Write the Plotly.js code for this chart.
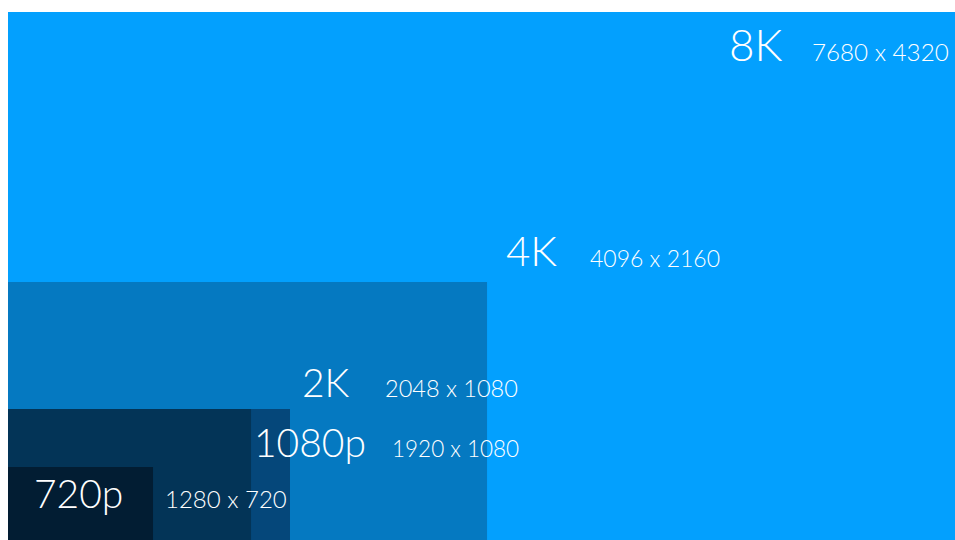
<!DOCTYPE html>
<html>
<head>
<meta charset="utf-8">
<script src="https://cdn.plot.ly/plotly-3.0.1.min.js"></script>
<style>
  html, body { margin: 0; padding: 0; background: #ffffff; }
  #chart { width: 955px; height: 540px; }
</style>
</head>
<body>
<div id="chart"></div>
<script>
// ---- data ----
const names = ['8K', '4K', '2K', '1080p', '720p'];
const resW = [7680, 4096, 2048, 1920, 1280];
const resH = [4320, 2160, 1080, 1080, 720];
// drawn box extents as they appear in the picture (same units as the axes)
const boxW = [7680, 3885, 2287, 1971, 1176];
const boxH = [4320, 2111, 1072, 1072, 597];

// ---- styles ----
const fills = ['#03A0FE', '#0579C1', '#05477A', '#033457', '#021D33'];
const bigSize = [44, 42, 39, 39, 39];
const subSize = [24.2, 23, 23.5, 22.5, 24];
// label anchor pixels: [bigX, subX, baselineY]
const labelPx = [
  [730, 812, 62],
  [507, 590, 268],
  [303, 385, 398],
  [255, 392, 458],
  [35, 165, 509]
];

const W = 955, H = 540, ML = 8, MT = 12;
const PW = W - ML, PH = H - MT;
const toPaperX = p => (p - ML) / PW;
const toPaperY = p => (H - p) / PH;

const shapes = names.map((n, i) => ({
  type: 'rect', xref: 'x', yref: 'y', layer: 'below',
  x0: 0, x1: boxW[i], y0: 0, y1: boxH[i],
  fillcolor: fills[i], line: { width: 0 }
}));

const FONT = 'Lato, "Open Sans", sans-serif';
const annotations = [];
names.forEach((n, i) => {
  const [bx, sx, by] = labelPx[i];
  annotations.push({
    xref: 'paper', yref: 'paper', xanchor: 'left', yanchor: 'bottom',
    x: toPaperX(bx - 3), y: toPaperY(by + 0.22 * bigSize[i]),
    text: n, showarrow: false, borderpad: 1,
    font: { family: FONT, size: bigSize[i], color: '#ffffff', weight: 300 }
  });
  annotations.push({
    xref: 'paper', yref: 'paper', xanchor: 'left', yanchor: 'bottom',
    x: toPaperX(sx - 2), y: toPaperY(by + 0.22 * subSize[i] + 1),
    text: resW[i] + ' x ' + resH[i], showarrow: false, borderpad: 1,
    font: { family: FONT, size: subSize[i], color: '#ffffff', weight: 300 }
  });
});

const layout = {
  width: W, height: H,
  margin: { l: ML, r: 0, t: MT, b: 0, pad: 0 },
  paper_bgcolor: '#ffffff', plot_bgcolor: '#ffffff',
  xaxis: { range: [0, 7680], visible: false, fixedrange: true },
  yaxis: { range: [0, 4320], visible: false, fixedrange: true },
  showlegend: false,
  shapes: shapes,
  annotations: annotations
};

Plotly.newPlot('chart', [{ x: [], y: [], type: 'scatter', mode: 'markers', hoverinfo: 'skip' }], layout, { staticPlot: true, displayModeBar: false });
</script>
</body>
</html>
